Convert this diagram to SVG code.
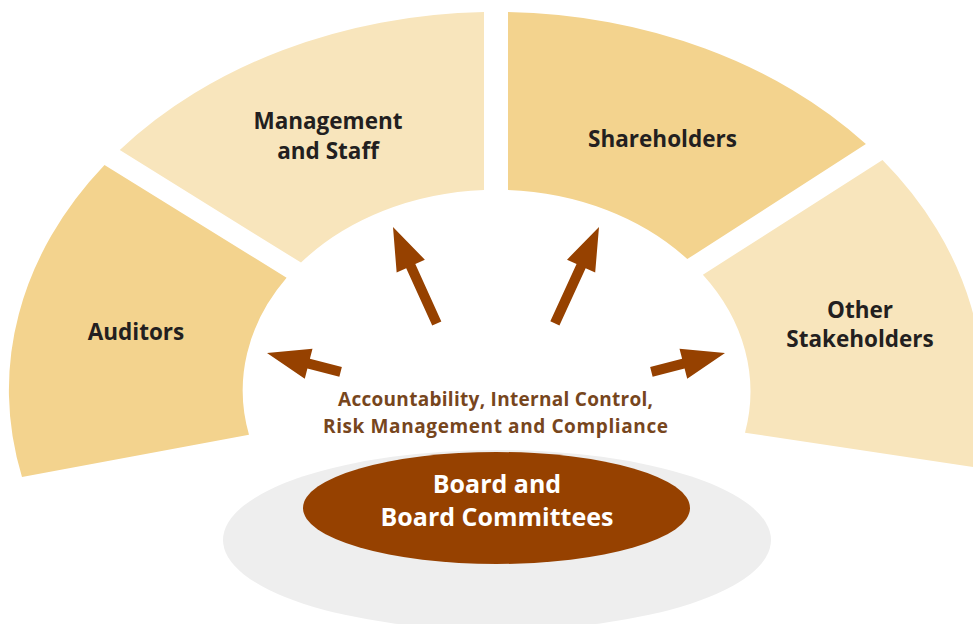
<svg xmlns="http://www.w3.org/2000/svg" xmlns:xlink="http://www.w3.org/1999/xlink" width="973" height="624" viewBox="0 0 973 624">
  <style>
    .dark { fill: #f3d38e; }
    .light { fill: #f8e5bc; }
    .lbl { font-family: "Open Sans", "Noto Sans", "Liberation Sans", sans-serif; font-weight: 700; font-size: 22.5px; fill: #231f20; text-anchor: middle; }
    .mid { font-family: "Open Sans", "Noto Sans", "Liberation Sans", sans-serif; font-weight: 700; font-size: 19px; fill: #77461d; text-anchor: middle; }
    .board { font-family: "Open Sans", "Noto Sans", "Liberation Sans", sans-serif; font-weight: 700; font-size: 25px; fill: #ffffff; text-anchor: middle; }
    .arrow { fill: #964100; }
  </style>
  <defs>
    <polygon id="arrowS" points="0,0 -43,-15.5 -43,-5 -76,-5 -76,5 -43,5 -43,15.5"/>
    <polygon id="arrowL" points="0,0 -43,-15.5 -43,-5 -106,-5 -106,5 -43,5 -43,15.5"/>
  </defs>
  <rect width="973" height="624" fill="#ffffff"/>

  <g id="auditors">
    <path class="dark" d="M 22,477 A 487 378 0 0 1 104.5,165 L 286.6,277.8 A 253 200 0 0 0 249,434.7 Z"/>
    <text class="lbl" x="136" y="340">Auditors</text>
  </g>
  <g id="management">
    <path class="light" d="M 119.8,150 A 487 378 0 0 1 484,12 L 484,190 A 253 200 0 0 0 301,262.6 Z"/>
    <text class="lbl" x="328" y="128.5">Management</text>
    <text class="lbl" x="328" y="158.5">and Staff</text>
  </g>
  <g id="shareholders">
    <path class="dark" d="M 508,12 A 487 378 0 0 1 865.9,144.1 L 687.3,259.1 A 253 200 0 0 0 508,190 Z"/>
    <text class="lbl" x="662.5" y="147">Shareholders</text>
  </g>
  <g id="other-stakeholders">
    <path class="light" d="M 882.5,160 A 487 378 0 0 1 973,467 L 745,432.7 A 253 200 0 0 0 702.9,274.7 Z"/>
    <text class="lbl" x="860" y="318">Other</text>
    <text class="lbl" x="860" y="347">Stakeholders</text>
  </g>

  <g id="board">
    <ellipse cx="497" cy="540" rx="274" ry="90" fill="#eeeeee"/>
    <ellipse cx="496.5" cy="508" rx="193.5" ry="56" fill="#964100"/>
    <text class="board" x="497" y="493">Board and</text>
    <text class="board" x="497" y="526">Board Committees</text>
  </g>

  <g id="connectors">
    <use xlink:href="#arrowS" class="arrow" transform="translate(267,353) rotate(194.4)"/>
    <use xlink:href="#arrowL" class="arrow" transform="translate(393,227) rotate(245.6)"/>
    <use xlink:href="#arrowL" class="arrow" transform="translate(599,227) rotate(-65.4)"/>
    <use xlink:href="#arrowS" class="arrow" transform="translate(725,353) rotate(-14.4)"/>
  </g>

  <g id="accountability">
    <text class="mid" x="495.5" y="406" textLength="315" lengthAdjust="spacing">Accountability, Internal Control,</text>
    <text class="mid" x="495.5" y="432.5" textLength="345" lengthAdjust="spacing">Risk Management and Compliance</text>
  </g>
</svg>
